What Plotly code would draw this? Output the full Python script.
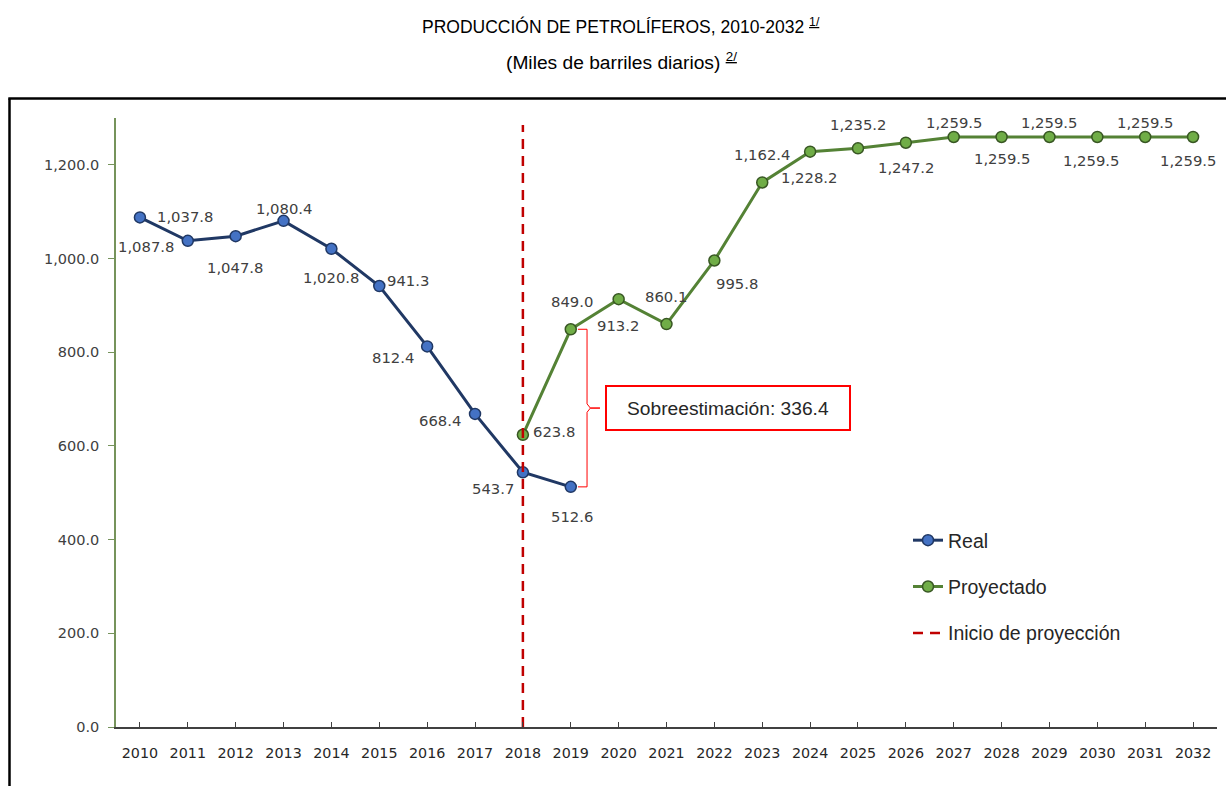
import plotly.graph_objects as go

# ---------------- data ----------------
real_years = [2010, 2011, 2012, 2013, 2014, 2015, 2016, 2017, 2018, 2019]
real_values = [1087.8, 1037.8, 1047.8, 1080.4, 1020.8, 941.3, 812.4, 668.4, 543.7, 512.6]
proj_years = [2018, 2019, 2020, 2021, 2022, 2023, 2024, 2025, 2026, 2027, 2028, 2029, 2030, 2031, 2032]
proj_values = [623.8, 849.0, 913.2, 860.1, 995.8, 1162.4, 1228.2, 1235.2, 1247.2,
               1259.5, 1259.5, 1259.5, 1259.5, 1259.5, 1259.5]
x_ticks = list(range(2010, 2033))
y_ticks = [0, 200, 400, 600, 800, 1000, 1200]
projection_start = 2018
gap_year = 2019
gap_value = 336.4

title_text = "PRODUCCIÓN DE PETROLÍFEROS, 2010-2032 <sup><u>1/</u></sup>"
subtitle_text = "(Miles de barriles diarios) <sup><u>2/</u></sup>"
names = ["Real", "Proyectado", "Inicio de proyección"]

# label offsets in pixels (dx right, dy down)
real_shift = [(6, 29), (-3, -24), (-1, 31), (0, -12), (0, 29), (29, -6), (-34, 11), (-35, 7), (-30, 16), (1, 30)]
proj_shift = [(31, -3), (1, -28), (-1, 26), (-1, -28), (23, 23), (0, -28), (-1, 26), (0, -24), (0, 25),
              (0, -14), (0, 22), (0, -14), (-6, 24), (0, -14), (-5, 24)]

# ---------------- styles ----------------
L, R, T, B = 116, 9, 118, 59
W, H = 1226, 786
PW, PH = W - L - R, H - T - B


def px_x(px):
    return (px - L) / PW


def px_y(py):
    return (H - B - py) / PH


LABEL_FONT = dict(family="DejaVu Sans", size=14.8, color="#404040")
TEXT_FONT = "Liberation Sans"

fig = go.Figure()

fig.add_trace(go.Scatter(
    x=real_years, y=real_values, name=names[0], mode="lines+markers",
    line=dict(color="#203864", width=3),
    marker=dict(size=11, color="#4472C4", line=dict(color="#203864", width=1.5)),
    legendgroup="a",
))
fig.add_trace(go.Scatter(
    x=proj_years, y=proj_values, name=names[1], mode="lines+markers",
    line=dict(color="#548235", width=3),
    marker=dict(size=11, color="#70AD47", line=dict(color="#385723", width=1.5)),
    legendgroup="b",
))
fig.add_trace(go.Scatter(
    x=[projection_start, projection_start], y=[0, 1285], name=names[2], mode="lines",
    line=dict(color="#C00000", width=2.5, dash="10px,7px"),
    legendgroup="c",
))

# data labels
for xs, ys, shifts in ((real_years, real_values, real_shift), (proj_years, proj_values, proj_shift)):
    for xv, yv, (dx, dy) in zip(xs, ys, shifts):
        fig.add_annotation(x=xv, y=yv, text=f"{yv:,.1f}", showarrow=False,
                           xshift=dx, yshift=-dy, font=LABEL_FONT)

# bracket between real and projected values in gap year
hi = proj_values[proj_years.index(gap_year)]
lo = real_values[real_years.index(gap_year)]
mid = (hi + lo) / 2
bx = gap_year + 0.34
path = (f"M {gap_year + 0.15},{hi} L {bx},{hi} L {bx},{mid + 9} L {bx + 0.07},{mid} "
        f"L {gap_year + 0.61},{mid} L {bx + 0.07},{mid} L {bx},{mid - 9} L {bx},{lo} L {gap_year + 0.15},{lo}")
fig.add_shape(type="path", path=path, xref="x", yref="y",
              line=dict(color="#FF0000", width=1), layer="above")
fig.add_annotation(x=gap_year + 0.72, y=mid, xanchor="left", yanchor="middle",
                   text=f"Sobreestimación: {gap_value:,.1f}", showarrow=False,
                   font=dict(family=TEXT_FONT, size=19.2, color="#262626"),
                   bordercolor="#FF0000", borderwidth=2, borderpad=0,
                   width=242, height=42, bgcolor="white", align="center")

# titles
fig.add_annotation(xref="paper", yref="paper", x=px_x(621), y=px_y(26), yanchor="middle",
                   text=title_text, showarrow=False,
                   font=dict(family=TEXT_FONT, size=17.5, color="#000000"))
fig.add_annotation(xref="paper", yref="paper", x=px_x(621), y=px_y(61), yanchor="middle",
                   text=subtitle_text, showarrow=False,
                   font=dict(family=TEXT_FONT, size=19.2, color="#000000"))

# outer frame (left and top edges)
fig.add_shape(type="line", xref="paper", yref="paper", x0=px_x(9.5), x1=px_x(9.5),
              y0=px_y(800), y1=px_y(98.5), line=dict(color="black", width=2.5))
fig.add_shape(type="line", xref="paper", yref="paper", x0=px_x(8.3), x1=px_x(1240),
              y0=px_y(98.5), y1=px_y(98.5), line=dict(color="black", width=2.5))

fig.update_layout(
    width=W, height=H,
    margin=dict(l=L, r=R, t=T, b=B),
    paper_bgcolor="white", plot_bgcolor="white",
    showlegend=True,
    legend=dict(x=px_x(908), y=px_y(521), xanchor="left", yanchor="top",
                font=dict(family=TEXT_FONT, size=19.5, color="#262626"),
                tracegroupgap=18, bgcolor="rgba(0,0,0,0)", itemwidth=30),
    xaxis=dict(range=[2009.5, 2032.5], tickvals=x_ticks, ticktext=[str(v) for v in x_ticks],
               showgrid=False, zeroline=False, showline=True, linecolor="#404040", linewidth=1.5,
               ticks="inside", ticklen=5, tickcolor="#404040", tickwidth=1,
               tickfont=dict(family="DejaVu Sans", size=14.3, color="#262626"), ticklabelstandoff=12),
    yaxis=dict(range=[0, 1300], tickvals=y_ticks, tickformat=",.1f",
               showgrid=False, zeroline=False, showline=True, linecolor="#76935B", linewidth=1.5,
               ticks="outside", ticklen=6, tickcolor="#76935B", tickwidth=1, ticklabelstandoff=6,
               tickfont=dict(family="DejaVu Sans", size=14.5, color="#404040")),
)

fig.write_html("out.html", config={"displayModeBar": False},
               post_script="document.body.style.margin='0';document.body.style.overflow='hidden';")
